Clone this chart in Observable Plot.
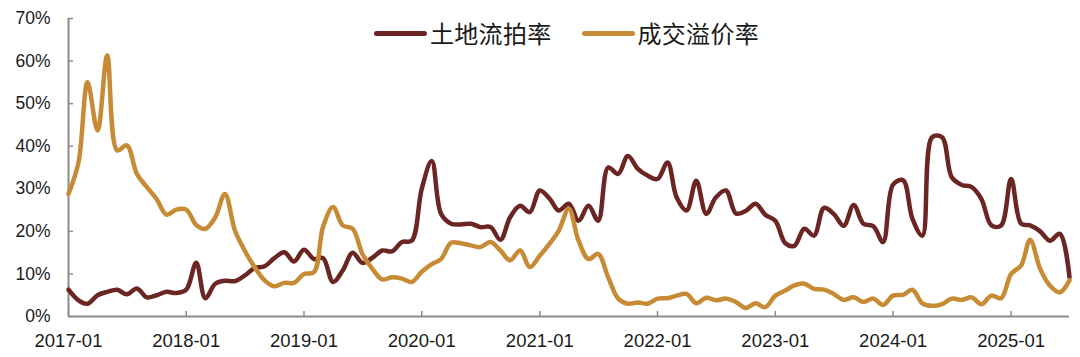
<!DOCTYPE html>
<html>
<head>
<meta charset="utf-8">
<script src="https://cdn.jsdelivr.net/npm/d3@7"></script>
<script src="https://cdn.jsdelivr.net/npm/@observablehq/plot@0.6"></script>
<style>
  html, body { margin: 0; padding: 0; background: #fff; }
  #wrap { position: relative; width: 1080px; height: 357px; }
  #legend { position: absolute; left: 374px; top: 18px; height: 30px; display: flex; align-items: center;
            font-family: "Noto Sans CJK SC", "Noto Sans", sans-serif; font-size: 24px; color: #1a1a1a; }
  .sw { width: 53px; height: 5px; border-radius: 2.5px; }
  .lt { margin-left: 3px; letter-spacing: 0.3px; line-height: 30px; }
</style>
</head>
<body>
<div id="wrap">
  <div id="chart"></div>
  <div id="legend"></div>
</div>
<script>
// Series names
const seriesNames = ["土地流拍率", "成交溢价率"];
const seriesColors = ["#6B2522", "#C78B35"];

// Monthly period: 2017-01 .. 2025-07 (103 months)
const startMonth = "2017-01";
const monthCount = 103;

// 土地流拍率 (%)
const liupai = [
  6.3, 3.8, 3.0, 5.0, 5.8, 6.3, 5.2, 6.6, 4.5, 5.0, 5.8, 5.5,
  6.3, 12.6, 4.3, 7.7, 8.4, 8.3, 9.6, 11.4, 11.8, 13.7, 15.1, 12.9,
  15.7, 13.5, 13.7, 8.1, 10.8, 15.0, 12.6, 13.8, 15.5, 15.3, 17.5, 17.8,
  30.0, 36.5, 24.1, 21.8, 21.6, 21.8, 21.0, 21.0, 18.0, 23.3, 26.0, 24.5,
  29.6, 27.6, 24.9, 26.5, 22.5, 26.0, 22.5, 35.0, 33.5, 37.7, 34.7, 33.1,
  32.3, 36.2, 28.0, 24.9, 31.9, 24.1, 28.0, 29.6, 24.2, 24.8, 26.5, 23.9,
  22.5, 17.2, 16.6, 20.6, 19.0, 25.5, 24.1, 21.3, 26.2, 21.8, 21.2, 17.5,
  31.0, 32.0, 23.0, 19.0, 42.1, 42.1, 32.7, 30.9, 30.4, 27.6, 21.4, 21.4,
  32.3, 21.8, 21.4, 20.0, 17.8, 19.4, 9.2
];

// 成交溢价率 (%)
const yijia = [
  28.8, 36.2, 55.0, 43.7, 61.3, 39.0, 40.2, 33.5, 30.4, 27.6, 23.9, 25.1,
  25.1, 21.5, 20.6, 23.3, 28.8, 20.2, 15.5, 11.6, 8.5, 7.1, 7.9, 7.9,
  10.0, 10.4, 21.0, 25.7, 21.4, 20.6, 14.7, 11.2, 8.7, 9.2, 8.9, 8.1,
  10.5, 12.3, 13.5, 17.3, 17.2, 16.7, 16.3, 17.5, 15.5, 13.2, 15.5, 11.6,
  14.3, 17.2, 20.2, 25.3, 17.8, 13.5, 14.7, 9.2, 4.2, 3.0, 3.3, 3.0,
  4.2, 4.3, 4.9, 5.3, 3.1, 4.4, 3.8, 4.2, 3.4, 2.0, 3.1, 2.2,
  4.9, 6.1, 7.3, 7.7, 6.5, 6.3, 5.3, 3.9, 4.5, 3.4, 4.2, 2.7,
  4.9, 5.1, 6.3, 3.1, 2.5, 2.9, 4.2, 3.9, 4.5, 2.9, 4.9, 4.3,
  10.0, 12.0, 18.0, 11.2, 7.3, 5.7, 8.5
];

// Tick labels
const xTickLabels = ["2017-01","2018-01","2019-01","2020-01","2021-01","2022-01","2023-01","2024-01","2025-01"];
const yTickValues = [0, 10, 20, 30, 40, 50, 60, 70];

const parseMonth = d3.utcParse("%Y-%m");
const fmtMonth = d3.utcFormat("%Y-%m");
const start = parseMonth(startMonth);
const months = d3.range(monthCount).map(i => d3.utcMonth.offset(start, i));

const rows = [];
months.forEach((m, i) => {
  rows.push({date: m, value: liupai[i], series: seriesNames[0]});
});
months.forEach((m, i) => {
  rows.push({date: m, value: yijia[i], series: seriesNames[1]});
});
const xTicks = xTickLabels.map(parseMonth);

const axisColor = "#8c8c8c";

const chart = Plot.plot({
  width: 1080,
  height: 357,
  marginLeft: 68,
  marginRight: 11,
  marginTop: 18,
  marginBottom: 41,
  style: {fontFamily: "'Liberation Sans', Arial, sans-serif", fontSize: "17px", color: "#1a1a1a", background: "#fff"},
  x: {type: "utc", domain: [months[0], months[months.length - 1]]},
  y: {domain: [0, 70]},
  color: {domain: seriesNames, range: seriesColors},
  marks: [
    Plot.axisY({ticks: yTickValues, tickSize: 0, tickPadding: 18, tickFormat: d => d + "%", label: null, fontSize: 17.5}),
    Plot.axisY({ticks: yTickValues, tickSize: -5, tickFormat: () => "", label: null, stroke: axisColor, strokeWidth: 1.5}),
    Plot.axisX({ticks: xTicks, tickSize: 0, tickPadding: 17, tickFormat: d => fmtMonth(d), label: null, fontSize: 18.5, letterSpacing: "0.6px"}),
    Plot.axisX({ticks: xTicks, tickSize: -5, tickFormat: () => "", label: null, stroke: axisColor, strokeWidth: 1.5}),
    Plot.ruleX([months[0]], {stroke: axisColor, strokeWidth: 2}),
    Plot.ruleY([0], {stroke: axisColor, strokeWidth: 2}),
    Plot.line(rows.filter(d => d.series === seriesNames[0]), {x: "date", y: "value", stroke: "series", strokeWidth: 4.5, curve: "catmull-rom", strokeLinecap: "round", strokeLinejoin: "round"}),
    Plot.line(rows.filter(d => d.series === seriesNames[1]), {x: "date", y: "value", stroke: "series", strokeWidth: 4.5, curve: "catmull-rom", strokeLinecap: "round", strokeLinejoin: "round"})
  ]
});
document.getElementById("chart").appendChild(chart);

const legend = document.getElementById("legend");
seriesNames.forEach((name, i) => {
  const item = document.createElement("div");
  item.style.display = "flex";
  item.style.alignItems = "center";
  if (i > 0) item.style.marginLeft = "30px";
  const sw = document.createElement("div");
  sw.className = "sw";
  sw.style.background = seriesColors[i];
  const t = document.createElement("span");
  t.className = "lt";
  t.textContent = name;
  item.appendChild(sw);
  item.appendChild(t);
  legend.appendChild(item);
});
</script>
</body>
</html>
